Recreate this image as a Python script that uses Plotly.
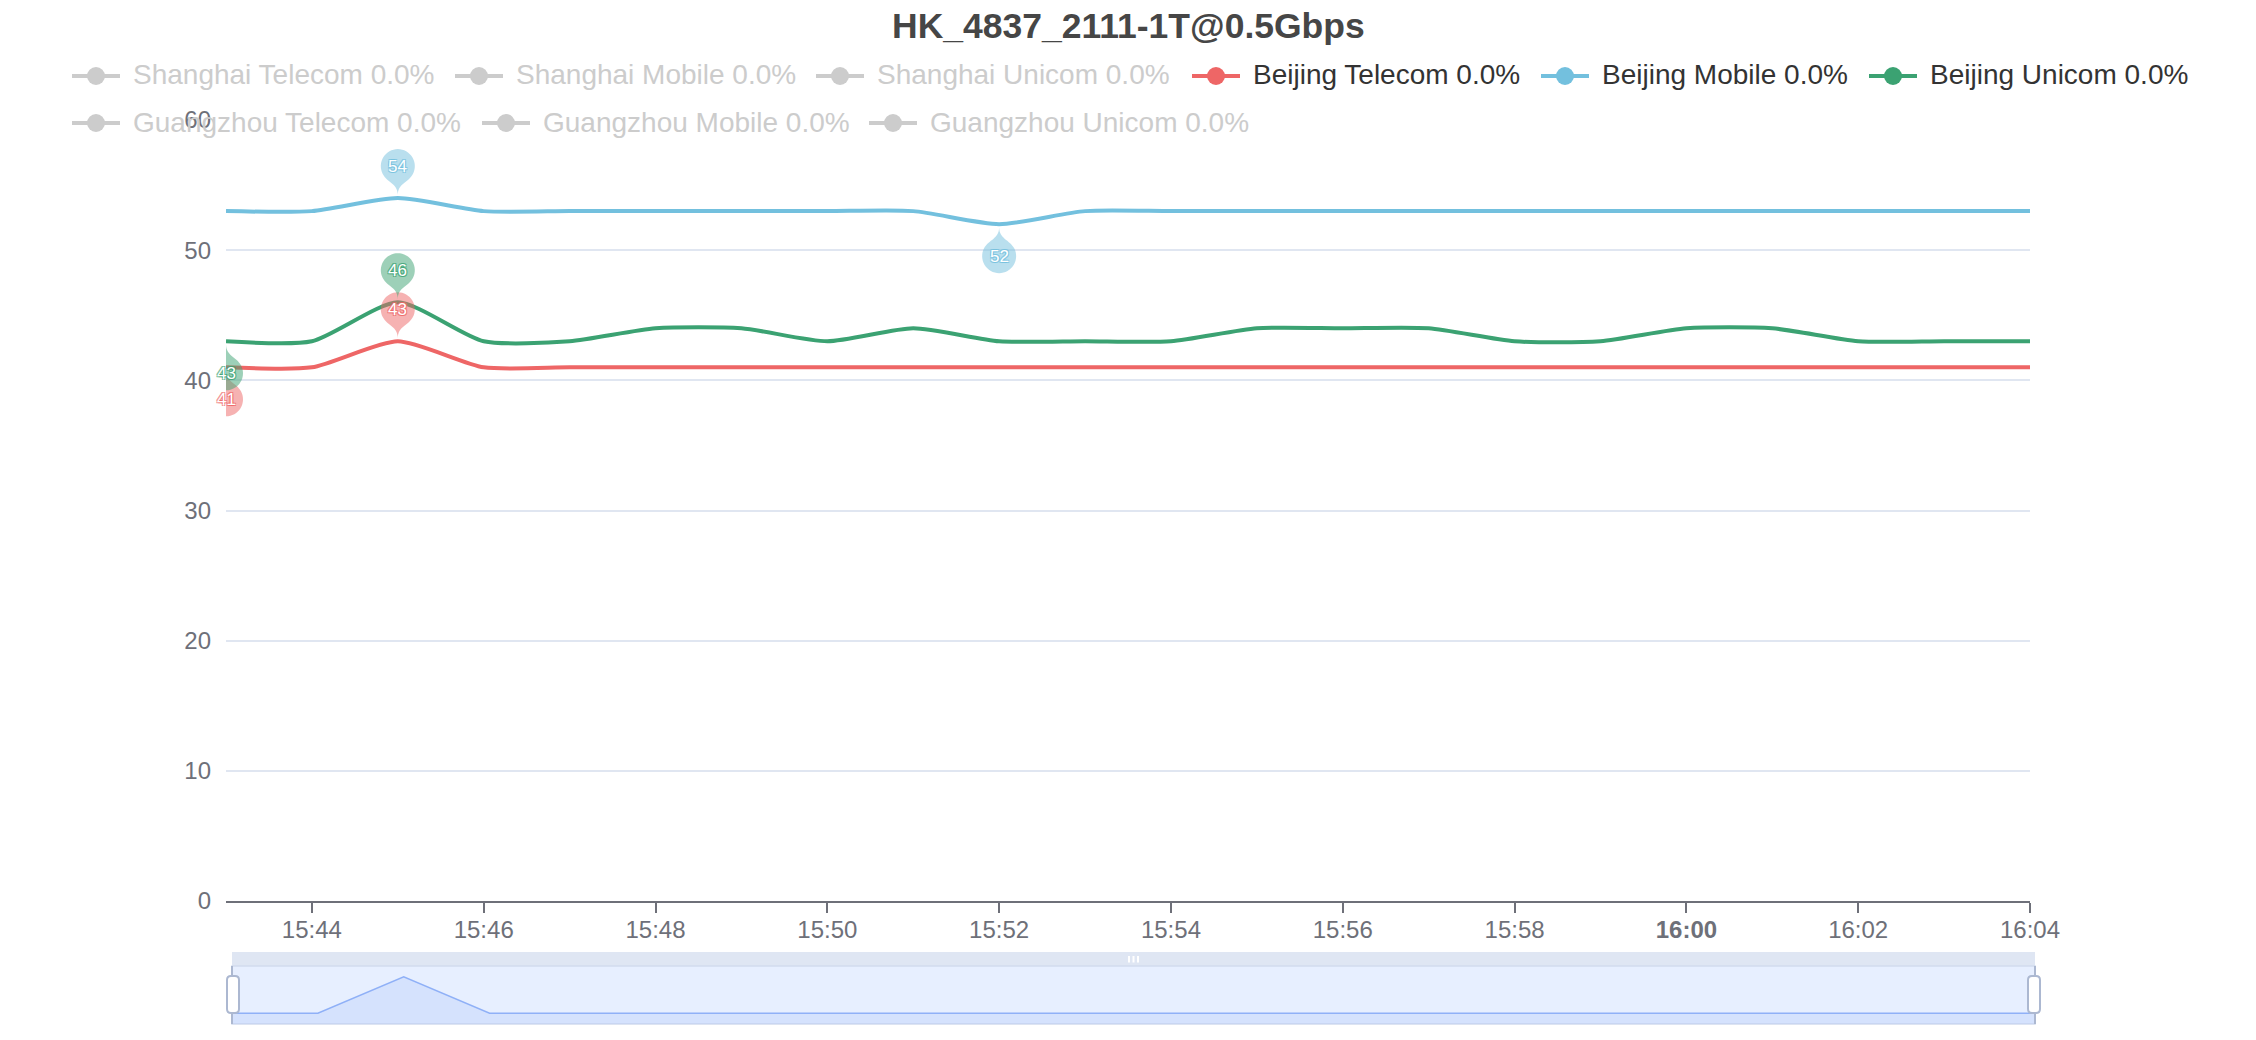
import math
import plotly.graph_objects as go

# ---------------- data ----------------
DAY = "2024-01-01"
times = ["15:43", "15:44", "15:45", "15:46", "15:47", "15:48", "15:49", "15:50",
         "15:51", "15:52", "15:53", "15:54", "15:55", "15:56", "15:57", "15:58",
         "15:59", "16:00", "16:01", "16:02", "16:03", "16:04"]

beijing_telecom = [41, 41, 43, 41, 41, 41, 41, 41, 41, 41, 41,
                   41, 41, 41, 41, 41, 41, 41, 41, 41, 41, 41]
beijing_mobile = [53, 53, 54, 53, 53, 53, 53, 53, 53, 52, 53,
                  53, 53, 53, 53, 53, 53, 53, 53, 53, 53, 53]
beijing_unicom = [43, 43, 46, 43, 43, 44, 44, 43, 44, 43, 43,
                  43, 44, 44, 44, 43, 43, 44, 44, 43, 43, 43]

series_names = ["Beijing Telecom", "Beijing Mobile", "Beijing Unicom"]
series_values = [beijing_telecom, beijing_mobile, beijing_unicom]
series_colors = ["#EE6666", "#73C0DE", "#3BA272"]

legend_row1 = ["Shanghai Telecom 0.0%", "Shanghai Mobile 0.0%", "Shanghai Unicom 0.0%",
               "Beijing Telecom 0.0%", "Beijing Mobile 0.0%", "Beijing Unicom 0.0%"]
legend_row1_colors = ["#CCCCCC", "#CCCCCC", "#CCCCCC", "#EE6666", "#73C0DE", "#3BA272"]
legend_row1_active = [False, False, False, True, True, True]
legend_row2 = ["Guangzhou Telecom 0.0%", "Guangzhou Mobile 0.0%", "Guangzhou Unicom 0.0%"]
legend_row2_colors = ["#CCCCCC", "#CCCCCC", "#CCCCCC"]
legend_row2_active = [False, False, False]

title_text = "HK_4837_2111-1T@0.5Gbps"

# ---------------- layout helpers ----------------
W, H = 2256, 1040
FONT = "Liberation Sans, Arial, Helvetica, sans-serif"


def fx(p):
    return p / W


def fy(p):
    return 1 - p / H


dts = [f"{DAY} {t}:00" for t in times]

fig = go.Figure()

# main lines
for name, vals, col in zip(series_names, series_values, series_colors):
    fig.add_trace(go.Scatter(
        x=dts, y=vals, mode="lines", name=name,
        line=dict(color=col, width=4, shape="spline", smoothing=0.65),
        hoverinfo="x+y+name", showlegend=False, xaxis="x", yaxis="y"))

# dataZoom shadow (first visible series)
shadow = beijing_telecom
s_lo, s_hi = min(shadow), max(shadow)
s_pad = (s_hi - s_lo) * 0.3
fig.add_trace(go.Scatter(
    x=dts, y=shadow, mode="lines", xaxis="x2", yaxis="y2",
    line=dict(color="#8FB0F7", width=1.5), fill="tozeroy",
    fillcolor="rgba(143,176,247,0.2)", hoverinfo="skip", showlegend=False))

shapes = []
annotations = []

# ---------------- markPoint pins ----------------


def pin_path(flip, r=17.0, center=29.0, off=3.0, n=32):
    u = (center + math.sqrt(center ** 2 + 4 * r * r)) / 2
    h = u + r
    dy = r * r / (h - r)
    cy = -h + r + dy
    a = math.asin(dy / r)
    dx = math.cos(a) * r
    tx, ty = math.sin(a), math.cos(a)
    c1, c2 = 0.6 * r, 0.7 * r

    def T(x, y):
        if flip:
            return (-x, y - off)
        return (x, -y + off)

    def f(p):
        return f"{p[0]:.2f},{p[1]:.2f}"

    parts = ["M" + f(T(-dx, cy + dy))]
    for i in range(1, n + 1):
        th = (math.pi - a) + (math.pi + 2 * a) * i / n
        parts.append("L" + f(T(r * math.cos(th), cy + r * math.sin(th))))
    parts.append("C" + f(T(dx - tx * c1, cy + dy + ty * c1)) + " " + f(T(0, -c2)) + " " + f(T(0, 0)))
    parts.append("C" + f(T(0, -c2)) + " " + f(T(-dx + tx * c1, cy + dy + ty * c1)) + " " + f(T(-dx, cy + dy)))
    parts.append("Z")
    return " ".join(parts), center + off


def rgba(hexc, a):
    hexc = hexc.lstrip("#")
    return f"rgba({int(hexc[0:2],16)},{int(hexc[2:4],16)},{int(hexc[4:6],16)},{a})"


for vals, col in zip(series_values, series_colors):
    imax = vals.index(max(vals))
    imin = vals.index(min(vals))
    for idx, flip in ((imax, False), (imin, True)):
        path, coff = pin_path(flip)
        shapes.append(dict(type="path", xref="x", yref="y", xsizemode="pixel", ysizemode="pixel",
                           xanchor=dts[idx], yanchor=vals[idx], path=path,
                           fillcolor=rgba(col, 0.5), line=dict(width=0), layer="above"))
        sc = rgba(col, 0.7)
        annotations.append(dict(x=dts[idx], y=vals[idx], xref="x", yref="y", showarrow=False,
                                text=str(vals[idx]), yshift=(-coff if flip else coff),
                                font=dict(family=FONT, size=17, color="white",
                                          shadow=f"1px 1px 0 {sc}, -1px -1px 0 {sc}, 1px -1px 0 {sc}, -1px 1px 0 {sc}"),
                                xanchor="center", yanchor="middle"))

# ---------------- title ----------------
annotations.append(dict(x=fx(1128), y=fy(26), xref="paper", yref="paper", showarrow=False,
                        text=f"<b>{title_text}</b>", xanchor="center", yanchor="middle",
                        font=dict(family=FONT, size=35.5, color="#464646")))

# ---------------- legend ----------------
row1_x = [72, 455, 816, 1192, 1541, 1869]
row2_x = [72, 482, 869]
for labels, cols, act, xs, yc in ((legend_row1, legend_row1_colors, legend_row1_active, row1_x, 76),
                                  (legend_row2, legend_row2_colors, legend_row2_active, row2_x, 123)):
    for lab, col, on, x0 in zip(labels, cols, act, xs):
        shapes.append(dict(type="line", xref="paper", yref="paper", x0=fx(x0), x1=fx(x0 + 48),
                           y0=fy(yc), y1=fy(yc), line=dict(color=col, width=4), layer="above"))
        shapes.append(dict(type="circle", xref="paper", yref="paper", x0=fx(x0 + 15), x1=fx(x0 + 33),
                           y0=fy(yc + 9), y1=fy(yc - 9), fillcolor=col, line=dict(color=col, width=0),
                           layer="above"))
        annotations.append(dict(x=fx(x0 + 59), y=fy(yc - 1), xref="paper", yref="paper", showarrow=False,
                                text=lab, xanchor="left", yanchor="middle",
                                font=dict(family=FONT, size=28, color="#333333" if on else "#CCCCCC")))

# ---------------- dataZoom slider decorations ----------------
SX0, SX1 = 232, 2035
shapes.append(dict(type="rect", xref="paper", yref="paper", x0=fx(SX0), x1=fx(SX1), y0=fy(966), y1=fy(952),
                   fillcolor="rgba(210,219,238,0.7)", line=dict(width=0), layer="below"))
shapes.append(dict(type="rect", xref="paper", yref="paper", x0=fx(SX0), x1=fx(SX1), y0=fy(1024), y1=fy(966),
                   fillcolor="rgba(135,175,255,0.2)", line=dict(color="#D2DBEE", width=1.5), layer="below"))
for sx in (SX0, SX1):
    shapes.append(dict(type="line", xref="paper", yref="paper", x0=fx(sx), x1=fx(sx), y0=fy(1024), y1=fy(966),
                       line=dict(color="#ACB8D1", width=2), layer="above"))


def rrect(w, h, rr):
    x0, x1, y0, y1 = -w / 2, w / 2, -h / 2, h / 2
    return (f"M{x0+rr},{y0} L{x1-rr},{y0} Q{x1},{y0} {x1},{y0+rr} L{x1},{y1-rr} Q{x1},{y1} {x1-rr},{y1} "
            f"L{x0+rr},{y1} Q{x0},{y1} {x0},{y1-rr} L{x0},{y0+rr} Q{x0},{y0} {x0+rr},{y0} Z")


for sx in (SX0 + 1, SX1 - 1):
    shapes.append(dict(type="path", xref="paper", yref="paper", xsizemode="pixel", ysizemode="pixel",
                       xanchor=fx(sx), yanchor=fy(994.5), path=rrect(12, 37, 4),
                       fillcolor="white", line=dict(color="#ACB8D1", width=2), layer="above"))
for gx in (1129, 1133.5, 1138):
    shapes.append(dict(type="line", xref="paper", yref="paper", x0=fx(gx), x1=fx(gx), y0=fy(962.5), y1=fy(956),
                       line=dict(color="white", width=2), layer="above"))

# ---------------- axes ----------------
tickvals = dts[1::2]
ticktext = []
for t in times[1::2]:
    ticktext.append(f"<b>{t}</b>" if t.endswith(":00") else t)

fig.update_layout(
    autosize=True,
    margin=dict(l=0, r=0, t=0, b=0, autoexpand=False),
    paper_bgcolor="white", plot_bgcolor="white",
    showlegend=False,
    font=dict(family=FONT),
    xaxis=dict(domain=[fx(226), fx(2030)], anchor="y", type="date", range=[dts[0], dts[-1]],
               showgrid=False, zeroline=False, showline=True, linecolor="#6E7079", linewidth=2,
               ticks="outside", ticklen=10, tickwidth=2, tickcolor="#6E7079", ticklabelstandoff=-4,
               tickmode="array", tickvals=tickvals, ticktext=ticktext,
               tickfont=dict(family=FONT, size=24, color="#6E7079"), fixedrange=True),
    yaxis=dict(domain=[fy(901), fy(120)], anchor="x", range=[0, 60], tick0=0, dtick=10,
               showgrid=True, gridcolor="#E0E6F1", gridwidth=2, zeroline=False, showline=False,
               ticks="", ticklabelstandoff=14,
               tickfont=dict(family=FONT, size=24, color="#6E7079"), fixedrange=True),
    xaxis2=dict(domain=[fx(SX0), fx(SX1)], anchor="y2", type="date", range=[dts[0], dts[-1]],
                visible=False, fixedrange=True),
    yaxis2=dict(domain=[fy(1024), fy(966)], anchor="x2", range=[s_lo - s_pad, s_hi + s_pad],
                visible=False, fixedrange=True),
    shapes=shapes,
    annotations=annotations,
)

post = ("document.documentElement.style.margin='0';document.body.style.margin='0';"
        "document.documentElement.style.overflow='hidden';document.body.style.overflow='hidden';"
        "var gd=document.getElementById('{plot_id}');gd.style.position='fixed';gd.style.left='0';"
        "gd.style.top='0';gd.style.width='100vw';gd.style.height='100vh';Plotly.Plots.resize(gd);")

fig.write_html("out.html", config={"displayModeBar": False, "responsive": True},
               default_width="100vw", default_height="100vh", post_script=post)
